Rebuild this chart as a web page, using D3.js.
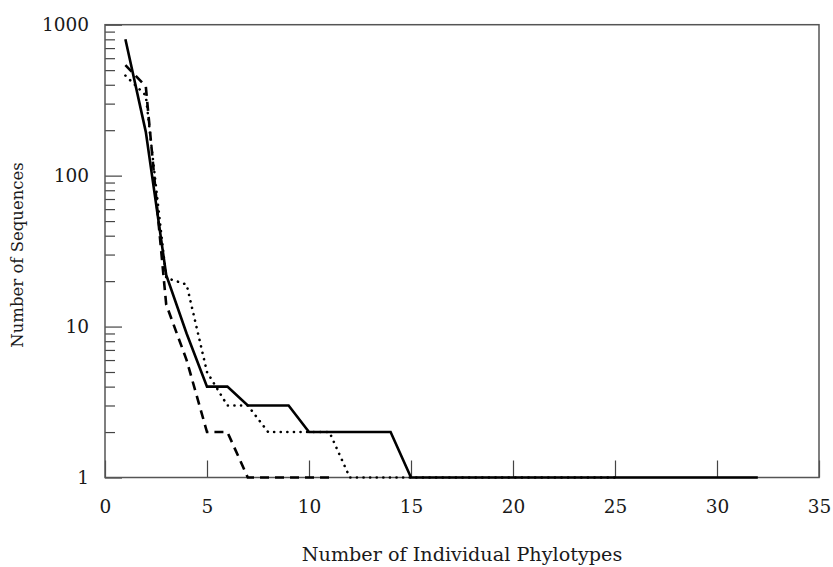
<!DOCTYPE html>
<html>
<head>
<meta charset="utf-8">
<script src="https://cdn.jsdelivr.net/npm/d3@7"></script>
<style>
  body { margin: 0; background: #fff; }
  text { font-family: "DejaVu Serif", "Liberation Serif", serif; fill: #1a1a1a; }
</style>
</head>
<body>
<div id="holder"></div>
<script>
const w = 833;
const h = 567;
const margin = { top: 24.7, right: 14, bottom: 89.5, left: 105 };

// DATA
const solidX = [1, 2, 3, 4, 5, 6, 7, 8, 9, 10, 11, 12, 13, 14, 15, 32];
const solidY = [800, 195, 22, 9, 4, 4, 3, 3, 3, 2, 2, 2, 2, 2, 1, 1];
const dashedX = [1, 2, 3, 4, 5, 6, 7, 11];
const dashedY = [540, 390, 14, 6, 2, 2, 1, 1];
const dottedX = [1, 2, 3, 4, 5, 6, 7, 8, 9, 10, 11, 12, 25];
const dottedY = [460, 340, 21, 19, 5, 3, 3, 2, 2, 2, 2, 1, 1];

const xTicks = [0, 5, 10, 15, 20, 25, 30, 35];
const yTicks = [1, 10, 100, 1000];
const xTitle = "Number of Individual Phylotypes";
const yTitle = "Number of Sequences";

// SVG
const svg = d3.select("#holder")
    .append("svg")
    .attr("width", w)
    .attr("height", h)

svg.append("rect").attr("width", w).attr("height", h).attr("fill", "#fff")

const xScale = d3.scaleLinear()
    .domain([0, 35])
    .range([margin.left, w - margin.right])

const yScale = d3.scaleLog()
    .domain([1, 1000])
    .range([h - margin.bottom, margin.top])

// minor ticks on y (2..9 in each decade)
let minor = []
for (let d of [1, 10, 100]) {
    for (let k = 2; k <= 9; k++) minor.push(d * k)
}

svg.append("g")
    .attr("transform", "translate(" + margin.left + ",0)")
    .call(d3.axisLeft(yScale).tickValues(minor).tickSize(-10).tickFormat(""))
    .call(g => g.select(".domain").remove())
    .call(g => g.selectAll("line").attr("stroke", "#444").attr("stroke-width", 1.2))

// Y AXIS
svg.append("g")
    .attr("transform", "translate(" + margin.left + ",0)")
    .call(d3.axisLeft(yScale).tickValues(yTicks).tickSize(-17).tickPadding(16).tickFormat(d3.format("d")))
    .call(g => g.select(".domain").remove())
    .call(g => g.selectAll("line").attr("stroke", "#444").attr("stroke-width", 1.2))
    .call(g => g.selectAll("text").attr("font-size", 18.5).attr("font-family", null))

// X AXIS
svg.append("g")
    .attr("transform", "translate(0," + (h - margin.bottom) + ")")
    .call(d3.axisBottom(xScale).tickValues(xTicks).tickSize(-17).tickPadding(22))
    .call(g => g.select(".domain").remove())
    .call(g => g.selectAll("line").attr("stroke", "#444").attr("stroke-width", 1.2))
    .call(g => g.selectAll("text").attr("font-size", 18.5).attr("font-family", null))

// FRAME
svg.append("rect")
    .attr("x", margin.left)
    .attr("y", margin.top)
    .attr("width", w - margin.left - margin.right)
    .attr("height", h - margin.top - margin.bottom)
    .attr("fill", "none")
    .attr("stroke", "#555")
    .attr("stroke-width", 1.5)

// LINES
const line = d3.line()
    .x(d => xScale(d[0]))
    .y(d => yScale(d[1]))

function drawSeries(xs, ys, dash, cap) {
    svg.append("path")
        .datum(xs.map((x, i) => [x, ys[i]]))
        .attr("d", line)
        .attr("fill", "none")
        .attr("stroke", "#000")
        .attr("stroke-width", 2.6)
        .attr("stroke-dasharray", dash)
        .attr("stroke-linecap", cap)
        .attr("stroke-linejoin", "miter")
}

drawSeries(dottedX, dottedY, "0.1,6.5", "round")
drawSeries(dashedX, dashedY, "9,6", "butt")
drawSeries(solidX, solidY, null, "butt")

// TITLES
svg.append("text")
    .attr("x", (margin.left + w - margin.right) / 2)
    .attr("y", 561)
    .attr("text-anchor", "middle")
    .attr("font-size", 19.2)
    .text(xTitle)

svg.append("text")
    .attr("transform", "translate(23," + 255 + ") rotate(-90)")
    .attr("text-anchor", "middle")
    .attr("font-size", 16.5)
    .text(yTitle)
</script>
</body>
</html>
